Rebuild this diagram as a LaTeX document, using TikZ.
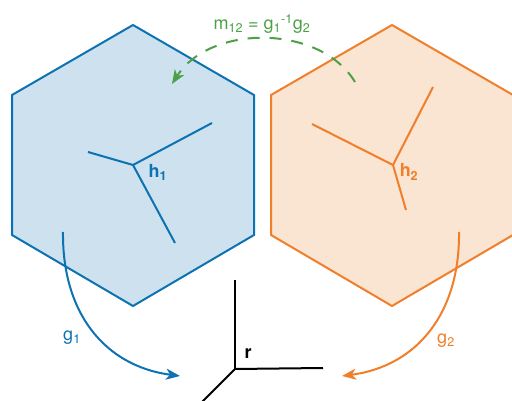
\documentclass[tikz,border=0pt]{standalone}
\usepackage{fontspec}
\setmainfont{TeX Gyre Heros}
\usetikzlibrary{arrows.meta}
\definecolor{hexblue}{RGB}{12,114,178}
\definecolor{hexbluefill}{RGB}{206,225,239}
\definecolor{hexorange}{RGB}{240,126,42}
\definecolor{hexorangefill}{RGB}{250,228,210}
\definecolor{mapgreen}{RGB}{76,160,70}
\begin{document}
\begin{tikzpicture}[x=1pt, y=-1pt, >={Stealth[length=14pt,width=11pt,inset=4pt]},
    lbl/.style={font=\fontsize{18}{21}\selectfont, inner sep=0pt},
    hexside/.style={line width=2pt, line join=miter}]
    \useasboundingbox (0,0) rectangle (512,401);
    \clip (0,0) rectangle (512,401);

    % the two hexagons
    \draw[hexside, hexblue, fill=hexbluefill]
        (133,25) -- (254,95) -- (254,235) -- (133,306) -- (12,235) -- (12,95) -- cycle;
    \draw[hexside, hexorange, fill=hexorangefill]
        (392,25) -- (513,95) -- (513,235) -- (392,306) -- (271,235) -- (271,95) -- cycle;

    % frames inside them and the reference frame
    \coordinate (h1c) at (133,165);
    \coordinate (h2c) at (393,165);
    \coordinate (rc) at (235,369);
    \foreach \dx/\dy in {-45/-13, 79/-42, 42/78}
        \draw[line width=2pt, hexblue] (h1c) -- ++(\dx,\dy);
    \foreach \dx/\dy in {-81/-41, 40/-78, 13/45}
        \draw[line width=2pt, hexorange] (h2c) -- ++(\dx,\dy);
    \foreach \dx/\dy in {0/-89, 88/-1, -40/40}
        \draw[line width=2pt, black] (rc) -- ++(\dx,\dy);

    \node[lbl, hexblue, font=\fontsize{18}{21}\selectfont\bfseries] (h1) at (158,172) {h\textsubscript{1}};
    \node[lbl, hexorange, font=\fontsize{18}{21}\selectfont\bfseries] (h2) at (409,172) {h\textsubscript{2}};
    \node[lbl, font=\fontsize{18}{21}\selectfont\bfseries] (r) at (248,354) {r};

    % the maps
    \coordinate (g1from) at (63,232);
    \coordinate (g1to) at (180,376);
    \coordinate (g2from) at (459,232);
    \coordinate (g2to) at (342,376);
    \coordinate (mfrom) at (355,82);
    \coordinate (mto) at (172,84);

    \draw[->, line width=2pt, hexblue] (g1from) .. controls (62,312) and (104,366) .. (g1to);
    \draw[->, line width=2pt, hexorange] (g2from) .. controls (460,312) and (418,366) .. (g2to);
    \draw[->, line width=2pt, mapgreen, dash pattern=on 12pt off 10pt]
        (mfrom) .. controls (320,24) and (210,24) .. (mto);

    \node[lbl, hexblue] (g1) at (72,338) {g\textsubscript{1}};
    \node[lbl, hexorange] (g2) at (446,341) {g\textsubscript{2}};
    \node[lbl, mapgreen] (m12) at (262,24) {m\textsubscript{12} = g\textsubscript{1}\textsuperscript{-1}g\textsubscript{2}};
\end{tikzpicture}
\end{document}
